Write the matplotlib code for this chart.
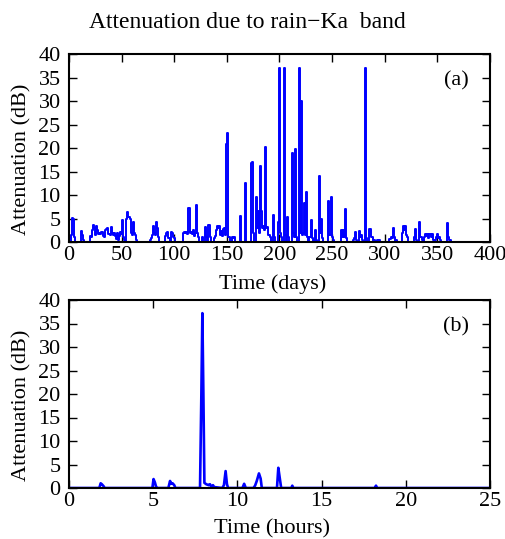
import numpy as np
import matplotlib
matplotlib.use("Agg")
import matplotlib.pyplot as plt

# ---------------- data ----------------
# (a) daily rain attenuation (days with non-zero attenuation)
rain_days = [2, 3, 4, 5, 12, 13, 14,
             20, 21, 22, 23, 24, 25, 26, 27, 28, 29, 30, 31, 32, 33, 34, 35, 36, 37, 38, 39,
             40, 41, 42, 43, 44, 45, 46, 47, 48, 49, 50, 51, 52, 53, 55, 56, 57, 58, 59,
             60, 61, 62, 63, 64,
             77, 78, 79, 80, 81, 82, 83, 84, 85,
             92, 93, 94, 95, 97, 98, 99, 100,
             109, 110, 111, 112, 113, 114, 115, 116, 117, 118, 119, 120, 121, 122, 123,
             127, 130, 131, 133, 134,
             138, 139, 140, 141, 142, 143, 144, 145, 146, 147, 148, 149, 150, 151, 152,
             155, 156, 157, 163, 168, 173, 174, 175,
             178, 179, 180, 181, 182, 183, 184, 185, 186, 187, 188, 189, 190, 191,
             194, 195, 199, 200, 201, 202, 205, 206, 208, 209,
             212, 213, 214, 215, 216, 219, 220, 221, 222, 223, 224, 225, 226, 227,
             229, 230, 231, 233, 234, 235, 238, 239, 240, 241,
             247, 248, 249, 250, 251,
             259, 260, 261, 262, 263, 264,
             270, 271, 272, 273, 276, 277, 278, 279,
             282, 283, 286, 287, 288, 290, 291, 293, 295,
             305, 306, 307, 308, 309, 311,
             317, 318, 319, 320, 321, 322,
             328, 329, 330, 333, 334, 335, 336,
             338, 339, 340, 341, 342, 343, 344, 345, 346,
             348, 349, 350, 351, 352, 353,
             360, 361, 362]
rain_db = [1.5, 5.2, 5.0, 1.0, 2.3, 1.5, 0.5,
           1.2, 1.0, 2.5, 3.6, 3.0, 1.5, 3.3, 2.5, 1.8, 2.0, 1.6, 2.1, 2.2, 1.2, 1.0, 2.6, 2.8, 2.9, 1.8, 1.4,
           3.1, 2.0, 1.5, 2.0, 1.2, 0.6, 2.0, 0.5, 1.2, 2.1, 1.8, 4.7, 1.0, 0.5, 5.0, 6.3, 5.4, 5.0, 2.0,
           1.5, 4.3, 2.0, 1.5, 0.5,
           0.5, 0.8, 1.5, 3.4, 2.0, 1.5, 4.3, 3.0, 1.0,
           1.2, 2.0, 2.2, 0.8, 2.1, 2.0, 1.0, 0.8,
           2.0, 2.1, 2.0, 2.2, 1.6, 7.2, 2.0, 2.1, 1.8, 2.5, 1.2, 2.0, 7.9, 2.0, 1.0,
           1.0, 3.1, 1.0, 3.6, 1.0,
           0.8, 1.2, 2.6, 3.4, 3.0, 3.4, 1.5, 2.3, 1.2, 2.8, 3.0, 1.5, 20.9, 23.1, 1.0,
           1.0, 0.8, 1.0, 5.5, 12.6, 16.9, 17.0, 2.0,
           9.6, 3.0, 6.7, 2.0, 16.1, 6.7, 3.0, 3.5, 2.5, 20.3, 3.0, 3.2, 1.5, 1.0,
           5.8, 1.0, 4.2, 37.0, 2.0, 1.0, 37.0, 1.5, 5.3, 1.0,
           19.0, 2.0, 1.0, 19.8, 1.0, 37.0, 2.0, 29.9, 1.5, 2.0, 8.2, 1.5, 10.7, 1.0,
           1.0, 4.7, 0.8, 0.5, 2.6, 0.5, 14.1, 2.0, 5.0, 0.8,
           8.8, 1.5, 9.5, 1.0, 0.5,
           2.6, 1.0, 2.5, 1.0, 7.0, 0.8,
           0.5, 0.8, 2.2, 0.5, 2.3, 1.0, 1.5, 0.5,
           37.0, 0.8, 2.7, 1.0, 1.0, 0.5, 0.3, 0.5, 0.4,
           0.6, 1.1, 0.8, 3.0, 1.0, 0.5,
           2.0, 3.3, 2.5, 3.5, 1.5, 1.0,
           1.0, 2.8, 0.5, 4.2, 1.0, 1.0, 0.5,
           1.0, 1.7, 1.2, 1.8, 0.8, 1.8, 1.0, 1.8, 0.5,
           0.5, 1.0, 1.8, 0.8, 1.0, 0.5,
           4.1, 1.0, 0.5]

# (b) attenuation during one day
hours = [0.0, 1.80, 1.88, 1.95, 2.05, 2.12,
         4.95, 5.02, 5.10, 5.17, 5.25,
         5.90, 6.00, 6.07, 6.15, 6.25, 6.32,
         7.78, 7.86, 7.92, 7.98, 8.04, 8.15, 8.30, 8.37, 8.45, 8.55, 8.62,
         9.10, 9.20, 9.30, 9.38, 9.45,
         10.30, 10.40, 10.50,
         10.95, 11.05, 11.15, 11.28, 11.38, 11.45,
         12.35, 12.43, 12.52, 12.60,
         13.20, 13.26, 13.32,
         18.15, 18.23, 18.30, 25.0]
hour_db = [0.0, 0.0, 1.0, 0.8, 0.4, 0.0,
           0.0, 1.9, 1.2, 0.3, 0.0,
           0.0, 1.5, 0.9, 1.0, 0.6, 0.0,
           0.0, 20.0, 37.2, 20.0, 1.1, 0.8, 0.6, 0.8, 0.3, 0.6, 0.2,
           0.0, 0.6, 3.6, 0.8, 0.0,
           0.0, 0.9, 0.0,
           0.0, 0.5, 1.5, 3.1, 2.0, 0.0,
           0.0, 4.3, 2.0, 0.0,
           0.0, 0.5, 0.0,
           0.0, 0.5, 0.0, 0.0]

n_days = 365
day_axis = np.arange(n_days)
daily = np.zeros(n_days)
daily[np.array(rain_days)] = rain_db

# ---------------- plot ----------------
plt.rcParams['font.family'] = ['Liberation Serif', 'DejaVu Serif']

fig = plt.figure(figsize=(5.06, 5.39), dpi=100)
W, H = 506, 539
def box(l, t, r, b):
    return [l / W, (H - b) / H, (r - l) / W, (b - t) / H]

ax1 = fig.add_axes(box(69, 54, 490, 242))
ax2 = fig.add_axes(box(69, 300, 490, 488))

blue = '#0000ff'
ax1.plot(day_axis, daily, color=blue, lw=1.4, drawstyle='steps-mid', zorder=2)
ax2.plot(hours, hour_db, color=blue, lw=1.9, zorder=2)

ax1.set_xlim(0, 400)
ax1.set_xticks(np.arange(0, 401, 50))
ax2.set_xlim(0, 25)
ax2.set_xticks(np.arange(0, 26, 5))

FS = 16
for ax in (ax1, ax2):
    ax.set_ylim(0, 40)
    ax.set_yticks(np.arange(0, 41, 5))
    ax.tick_params(direction='in', top=True, right=True, length=6, width=1.0,
                   labelsize=FS)
    ax.tick_params(axis='x', pad=3)
    ax.tick_params(axis='y', pad=6)
    for s in ax.spines.values():
        s.set_linewidth(1.5)
    ax.set_ylabel('Attenuation (dB)', fontsize=FS)
    ax.yaxis.set_label_coords(-0.09, 0.44)

ax1.set_xlabel('Time (days)', fontsize=FS)
ax1.xaxis.set_label_coords(0.483, -0.172)
ax2.set_xlabel('Time (hours)', fontsize=FS)
ax2.xaxis.set_label_coords(0.483, -0.168)

ax1.text(0.919, 0.856, '(a)', transform=ax1.transAxes, ha='center', va='center', fontsize=FS)
ax2.text(0.919, 0.859, '(b)', transform=ax2.transAxes, ha='center', va='center', fontsize=FS)

fig.text(247 / W, 1 - 28 / H, 'Attenuation due to rain\u2212Ka  band', ha='center',
         va='baseline', fontsize=17)

fig.savefig('out.png', dpi=100)
